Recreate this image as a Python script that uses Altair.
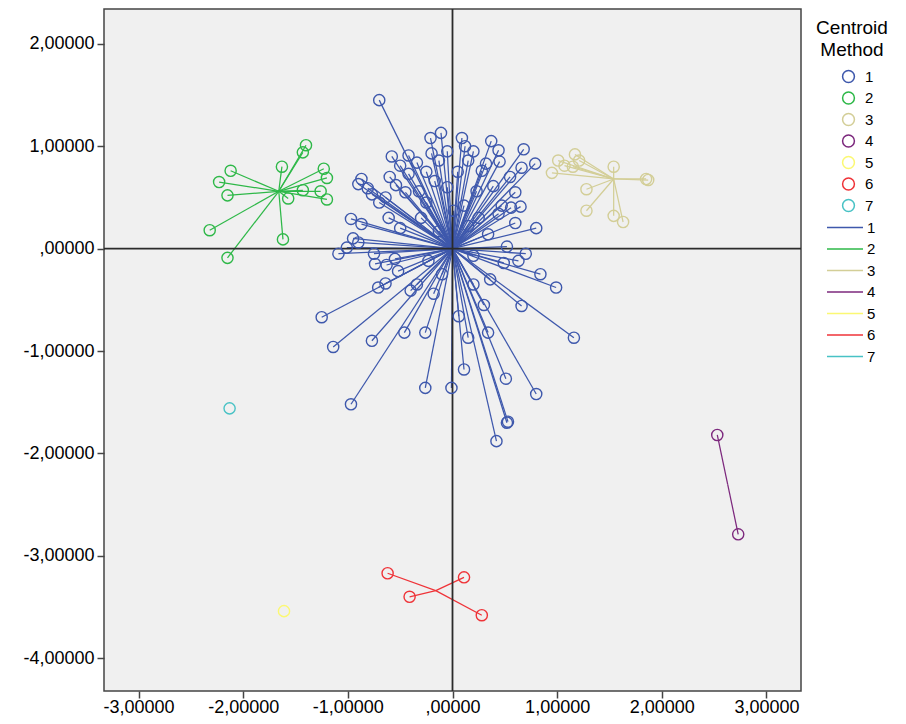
import altair as alt
import pandas as pd

clusters = ["1", "2", "3", "4", "5", "6", "7"]
colors = ["#3E58AC", "#2EB848", "#D3CE97", "#7C287D", "#FBF873", "#EF3338", "#48C2C5"]

centroid_x = [0.00, -1.66, 1.54, 2.63, -1.61, -0.16, -2.13]
centroid_y = [0.00, 0.56, 0.68, -2.305, -3.54, -3.34, -1.56]

x1 = [-0.70, -0.21, -0.11, -0.20, -0.13, -0.58, -0.42, -0.34, -0.50, -0.42,
      -0.87, -0.90, -0.81, -0.54, -0.77, -0.64, -0.97, -0.87, -0.95, -0.90,
      -0.61, -0.50, -0.32, -0.17,
      0.09, 0.12, 0.37, 0.44, 0.68, 0.79, 0.66, 0.28, 0.32, 0.15,
      0.47, 0.56, 0.65, 0.44, 0.80, 0.34, 0.52, 0.23, 0.39, 0.11,
      -1.09, -1.01, -0.75, -0.74, -0.63, -0.71, -0.64, -1.25, -1.14, -0.77,
      -0.46, -0.26, -0.34, -0.18, -0.26, -0.01, -0.97, -0.52, -0.40,
      0.84, 0.99, 0.66, 1.16, 0.36, 0.20, 0.06, 0.15, 0.34, 0.11,
      0.51, 0.80, 0.52, 0.53, 0.42, 0.63, 0.49,
      -0.13, 0.15, -0.23, 0.20, 0.01,
      -0.25, -0.05, 0.05, -0.30, 0.25, 0.60, -0.70, -0.45, -0.60, -0.25,
      -0.05, 0.55, 0.45, 0.20, 0.60, -0.55, 0.30, -0.10, 0.70]
y1 = [1.45, 1.08, 1.13, 0.93, 0.86, 0.90, 0.91, 0.84, 0.81, 0.73,
      0.68, 0.63, 0.59, 0.62, 0.53, 0.50, 0.29, 0.24, 0.10, 0.06,
      0.30, 0.20, 0.56, 0.66,
      1.08, 1.00, 1.05, 0.96, 0.97, 0.83, 0.79, 0.76, 0.83, 0.86,
      0.42, 0.40, 0.41, 0.34, 0.20, 0.14, 0.02, 0.56, 0.61, 0.42,
      -0.05, 0.01, -0.05, -0.15, -0.16, -0.38, -0.34, -0.67, -0.96, -0.90,
      -0.82, -0.82, -0.35, -0.44, -1.36, -1.36, -1.52, -0.22, -0.41,
      -0.25, -0.38, -0.56, -0.87, -0.30, -0.35, -0.66, -0.87, -0.82, -1.18,
      -1.27, -1.42, -1.70, -1.69, -1.88, -0.12, -0.14,
      0.17, 0.22, -0.12, -0.07, 0.37,
      0.45, 0.60, 0.75, 0.30, 0.30, 0.25, 0.45, 0.55, 0.70, 0.75,
      0.95, 0.70, 0.85, 0.95, 0.55, -0.10, -0.55, -0.25, -0.05]

x2 = [-1.40, -1.43, -2.12, -2.23, -1.63, -1.23, -1.20, -2.15, -1.43, -1.26, -1.57, -1.20, -2.32, -1.62, -2.15]
y2 = [1.01, 0.94, 0.76, 0.65, 0.80, 0.78, 0.69, 0.52, 0.57, 0.56, 0.49, 0.48, 0.18, 0.09, -0.09]

x3 = [0.95, 1.01, 1.07, 1.17, 1.21, 1.15, 1.54, 1.87, 1.85, 1.28, 1.28, 1.54, 1.63]
y3 = [0.74, 0.86, 0.81, 0.92, 0.86, 0.80, 0.80, 0.67, 0.68, 0.58, 0.37, 0.32, 0.26]

x4 = [2.53, 2.73]
y4 = [-1.82, -2.79]

x5 = [-1.61]
y5 = [-3.54]

x6 = [-0.62, -0.41, 0.11, 0.28]
y6 = [-3.17, -3.40, -3.21, -3.58]

x7 = [-2.13]
y7 = [-1.56]

x_ticks = [-3, -2, -1, 0, 1, 2, 3]
y_ticks = [-4, -3, -2, -1, 0, 1, 2]

all_x = [x1, x2, x3, x4, x5, x6, x7]
all_y = [y1, y2, y3, y4, y5, y6, y7]

rows = []
for i, (xs, ys) in enumerate(zip(all_x, all_y)):
    for xv, yv in zip(xs, ys):
        rows.append(dict(x=xv, y=yv, cx=centroid_x[i], cy=centroid_y[i],
                         cluster=clusters[i], line=clusters[i]))
df = pd.DataFrame(rows)

FONT = "Liberation Sans"
label_expr = ("datum.value == 0 ? ',00000' : (datum.value < 0 ? '-' : '') + "
              "replace(format(abs(datum.value), '.5f'), '.', ',')")

def axis(vals, pad):
    return alt.Axis(values=vals, labelExpr=label_expr, grid=False, domain=False,
                    tickSize=7, tickWidth=1.5, tickColor="#444444",
                    labelFontSize=18, labelFont=FONT, labelColor="#000000",
                    labelPadding=pad, title=None)

xscale = alt.Scale(domain=[-3.33, 3.33], nice=False, zero=False)
yscale = alt.Scale(domain=[-4.32, 2.34], nice=False, zero=False)
cscale = alt.Scale(domain=clusters, range=colors)

base = alt.Chart(df)

lines = base.mark_rule(strokeWidth=1.25).encode(
    x=alt.X("x:Q", scale=xscale, axis=axis(x_ticks, 0)),
    y=alt.Y("y:Q", scale=yscale, axis=axis(y_ticks, 3)),
    x2="cx:Q",
    y2="cy:Q",
    color=alt.Color("line:N", scale=cscale,
                    legend=alt.Legend(orient="none", legendX=711, legendY=211,
                                      title=None, symbolType="stroke",
                                      symbolSize=1296, symbolStrokeWidth=1.6,
                                      symbolOffset=11, labelOffset=3,
                                      labelFontSize=15, labelFont=FONT,
                                      clipHeight=15, rowPadding=5.5, padding=0)),
)

zero_df = pd.DataFrame({"v": [0]})
vline = alt.Chart(zero_df).mark_rule(color="#2b2b2b", strokeWidth=1.8).encode(x="v:Q")
hline = alt.Chart(zero_df).mark_rule(color="#2b2b2b", strokeWidth=1.8).encode(y="v:Q")

points = base.mark_point(filled=False, size=125, strokeWidth=1.4, opacity=1).encode(
    x="x:Q",
    y="y:Q",
    color=alt.Color("cluster:N", scale=cscale,
                    legend=alt.Legend(orient="none", legendX=712, legendY=10,
                                      title=["Centroid", "Method"],
                                      titleFontSize=19, titleFont=FONT,
                                      titleFontWeight="normal", titleColor="#000000",
                                      titleAlign="center", titleAnchor="middle",
                                      titleLineHeight=22, titlePadding=9,
                                      labelFontSize=15, labelFont=FONT,
                                      symbolType="circle", symbolSize=140,
                                      symbolStrokeWidth=1.5, symbolOffset=11,
                                      labelOffset=9, clipHeight=15,
                                      rowPadding=5.5, padding=0)),
)

chart = alt.layer(lines, vline, hline, points).resolve_scale(
    color="independent"
).properties(
    width=697, height=682,
    padding={"left": 14, "top": 0, "right": 0, "bottom": 0},
    background="#ffffff",
).configure_view(
    fill="#F0F0F0", stroke="#444444", strokeWidth=1.5
)

chart.save("out.html", embed_options={"renderer": "svg", "actions": False})
